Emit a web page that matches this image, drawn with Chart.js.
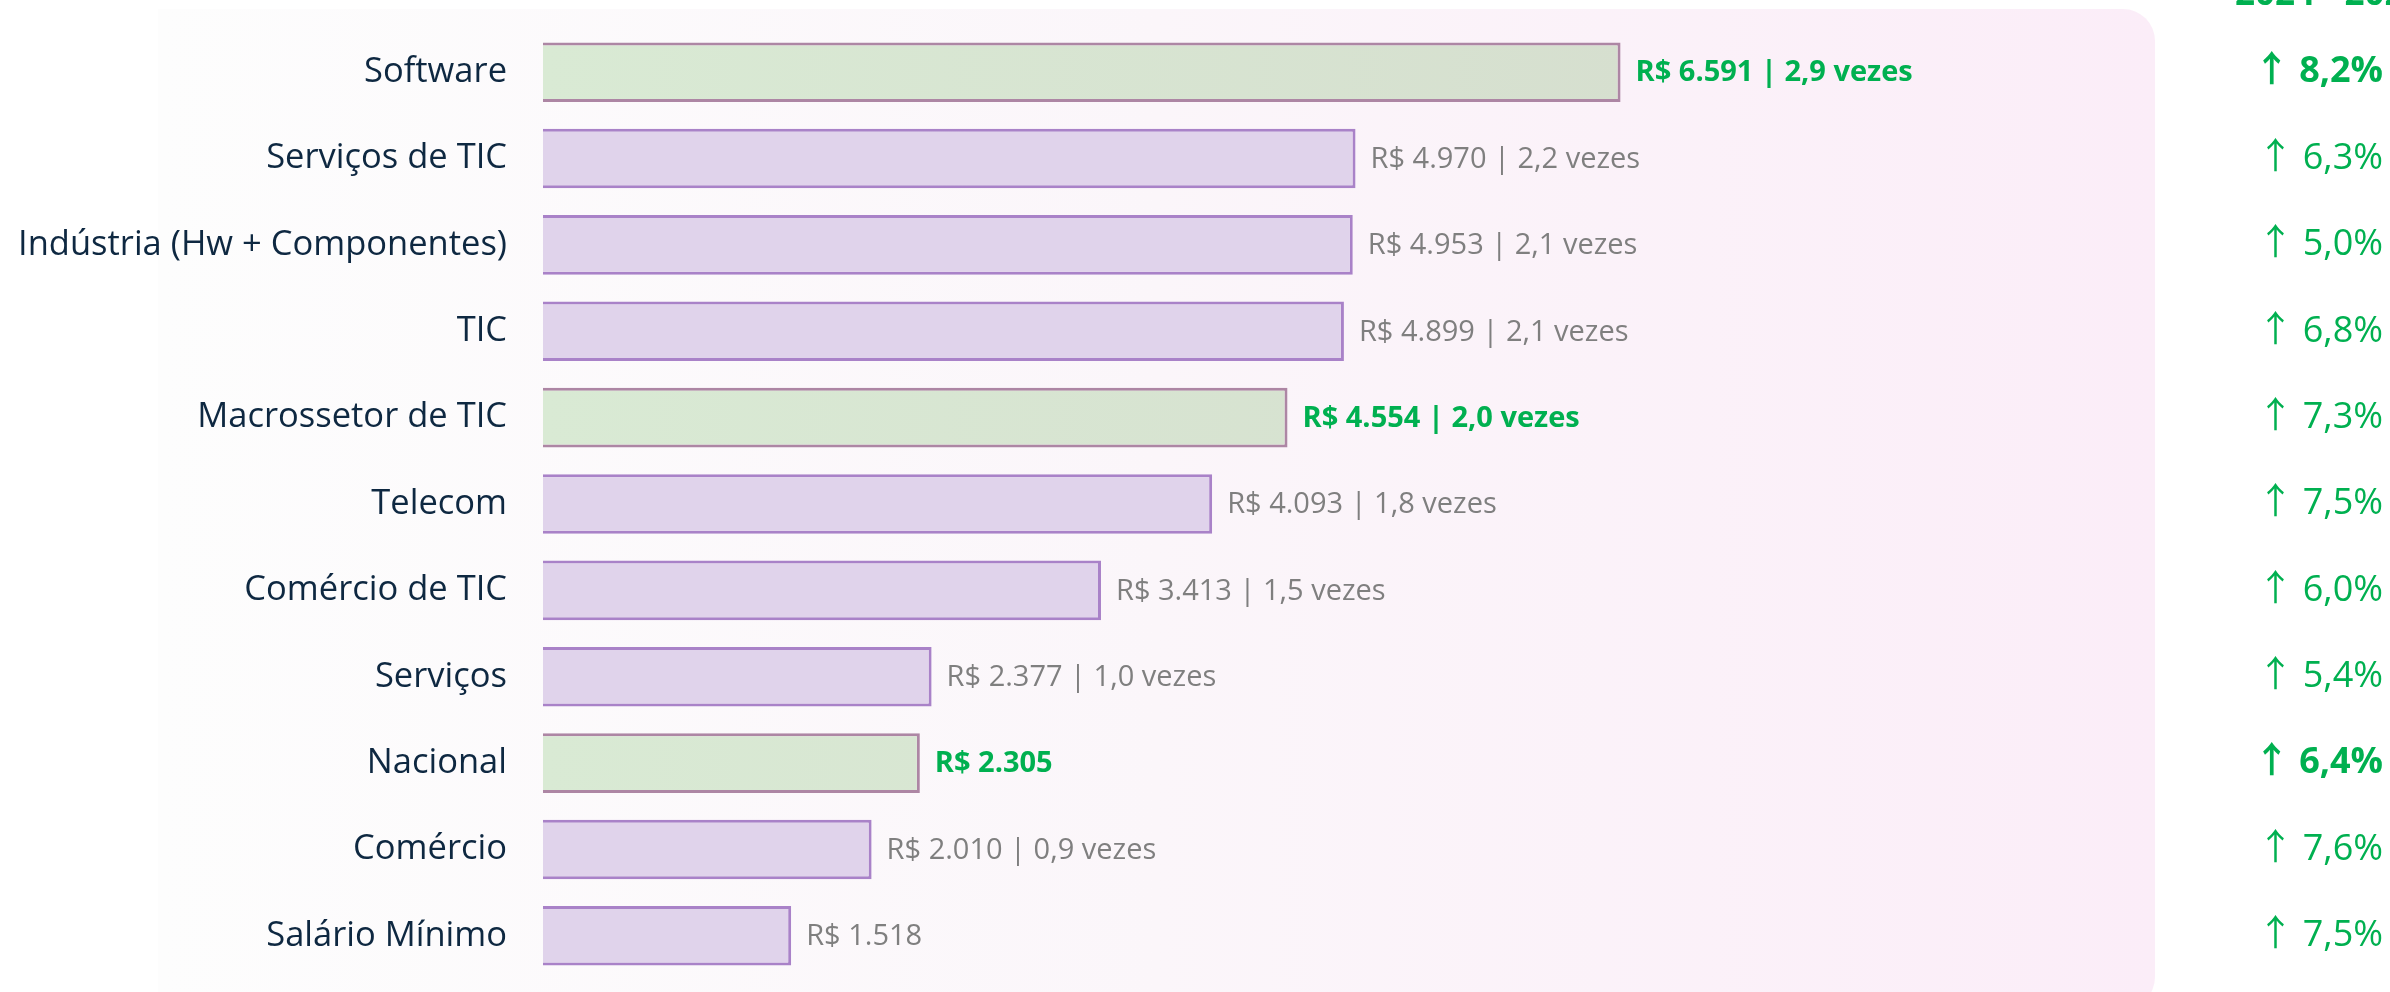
<!DOCTYPE html>
<html>
<head>
<meta charset="utf-8">
<script src="https://cdn.jsdelivr.net/npm/chart.js@4.4.1/dist/chart.umd.min.js"></script>
<style>
  html, body { margin: 0; padding: 0; background: #ffffff; }
  canvas { display: block; }
</style>
</head>
<body>
<canvas id="salaryChart" width="2390" height="992"></canvas>
<script>
// data
const categories = ['Software', 'Serviços de TIC', 'Indústria (Hw + Componentes)', 'TIC', 'Macrossetor de TIC',
    'Telecom', 'Comércio de TIC', 'Serviços', 'Nacional', 'Comércio', 'Salário Mínimo'];
const salaries = [6591, 4970, 4953, 4899, 4554, 4093, 3413, 2377, 2305, 2010, 1518];
const multiples = ['2,9', '2,2', '2,1', '2,1', '2,0', '1,8', '1,5', '1,0', null, '0,9', null];
const growth = ['8,2%', '6,3%', '5,0%', '6,8%', '7,3%', '7,5%', '6,0%', '5,4%', '6,4%', '7,6%', '7,5%'];
const highlighted = ['Software', 'Macrossetor de TIC', 'Nacional'];
const boldGrowth = ['Software', 'Nacional'];
const growthHeader = '2024 - 2025';

const GREEN = '#00b050';
const FONT = "'Open Sans', 'DejaVu Sans', sans-serif";
const ARROW_FONT = "'Open Sans', 'Noto Sans CJK SC', sans-serif";

function formatBRL(v) {
    return 'R$ ' + String(v).replace(/\B(?=(\d{3})+(?!\d))/g, '.');
}

const isHi = i => highlighted.includes(categories[i]);

// rounded panel behind the bars
const panelPlugin = {
    id: 'panel',
    beforeDraw(chart) {
        const c = chart.ctx;
        const x = 158, y = 9, w = 2155 - 158, h = 1000, r = 32;
        const grad = c.createLinearGradient(x, 0, x + w, 0);
        grad.addColorStop(0, '#fdfdfd');
        grad.addColorStop(0.5, '#fbf6fa');
        grad.addColorStop(1, '#fbedf8');
        c.save();
        c.fillStyle = grad;
        c.beginPath();
        c.roundRect(x, y, w, h, [0, r, r, 0]);
        c.fill();
        c.restore();
    }
};

// value labels next to each bar
const valueLabels = {
    id: 'valueLabels',
    afterDatasetsDraw(chart) {
        const c = chart.ctx;
        const meta = chart.getDatasetMeta(0);
        c.save();
        c.textBaseline = 'middle';
        c.textAlign = 'left';
        meta.data.forEach((bar, i) => {
            let txt = formatBRL(salaries[i]);
            if (multiples[i]) txt += ' | ' + multiples[i] + ' vezes';
            if (isHi(i)) {
                c.font = `bold 29px ${FONT}`;
                c.fillStyle = GREEN;
            } else {
                c.font = `29px ${FONT}`;
                c.fillStyle = '#7f7f7f';
            }
            c.fillText(txt, bar.x + 15, bar.y + 1);
        });
        c.restore();
    }
};

// header above the growth column (cut by the top edge)
const headerPlugin = {
    id: 'header',
    afterDraw(chart) {
        const c = chart.ctx;
        c.save();
        c.font = `bold 35px ${FONT}`;
        c.fillStyle = GREEN;
        c.textAlign = 'left';
        c.textBaseline = 'alphabetic';
        c.fillText(growthHeader, 2235, 5);
        c.restore();
    }
};

// no extra top/bottom room for the tick labels
function noLabelPadding(scale) {
    scale.paddingTop = 0;
    scale.paddingBottom = 0;
}

const ctx = document.getElementById('salaryChart').getContext('2d');

new Chart(ctx, {
    type: 'bar',
    data: {
        labels: categories,
        datasets: [{
            data: salaries,
            backgroundColor: (context) => {
                const i = context.dataIndex;
                if (!isHi(i)) return '#e0d3eb';
                const area = context.chart.chartArea;
                if (!area) return '#d9e8d3';
                const g = context.chart.ctx.createLinearGradient(area.left, 0, area.left + 1100, 0);
                g.addColorStop(0, '#d9ead4');
                g.addColorStop(1, '#d6dfcf');
                return g;
            },
            borderColor: salaries.map((v, i) => isHi(i) ? '#ad86a4' : '#a982c8'),
            borderWidth: 3,
            barPercentage: 0.69,
            categoryPercentage: 1
        }]
    },
    options: {
        indexAxis: 'y',
        responsive: false,
        animation: false,
        devicePixelRatio: 1,
        layout: { padding: { top: 29, bottom: 13, left: 0, right: 0 } },
        plugins: {
            legend: { display: false },
            tooltip: { enabled: false }
        },
        scales: {
            x: {
                display: false,
                min: 0,
                max: 9860
            },
            y: {
                position: 'left',
                grid: { display: false, drawTicks: false },
                border: { display: false },
                ticks: {
                    color: '#0e2841',
                    padding: 36,
                    font: { family: FONT, size: 34.5 }
                },
                afterFit(scale) {
                    scale.width = 543;
                    noLabelPadding(scale);
                }
            },
            y2: {
                type: 'category',
                position: 'right',
                labels: growth.map(g => '\u2191 ' + g),
                offset: true,
                grid: { display: false, drawTicks: false },
                border: { display: false },
                ticks: {
                    color: GREEN,
                    // mirrored labels are right aligned at (left + padding)
                    mirror: true,
                    padding: 2383 - 2155,
                    crossAlign: 'near',
                    font: (c) => ({
                        family: ARROW_FONT,
                        size: 36,
                        weight: boldGrowth.includes(categories[c.index]) ? 'bold' : 'normal'
                    })
                },
                afterFit(scale) {
                    scale.width = 2390 - 2155;
                    noLabelPadding(scale);
                }
            }
        }
    },
    plugins: [panelPlugin, valueLabels, headerPlugin]
});
</script>
</body>
</html>
